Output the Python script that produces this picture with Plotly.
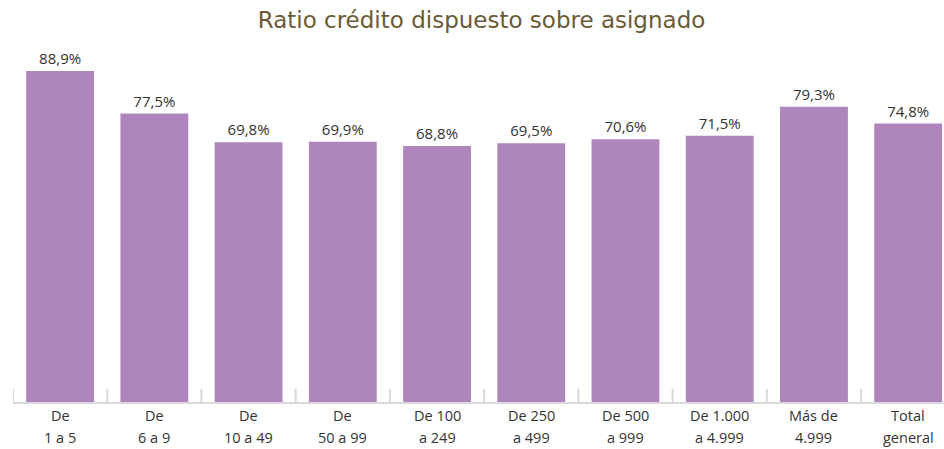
import plotly.graph_objects as go

label_line1 = ["De", "De", "De", "De", "De 100", "De 250", "De 500", "De 1.000", "Más de", "Total"]
label_line2 = ["1 a 5", "6 a 9", "10 a 49", "50 a 99", "a 249", "a 499", "a 999", "a 4.999", "4.999", "general"]
ratios = [88.9, 77.5, 69.8, 69.9, 68.8, 69.5, 70.6, 71.5, 79.3, 74.8]

W, H = 944, 449
FONT = "Open Sans, Liberation Sans, sans-serif"
idx = list(range(len(ratios)))
boundaries = [i - 0.5 for i in range(len(ratios) + 1)]

fig = go.Figure(go.Bar(
    x=idx, y=ratios,
    marker=dict(color="#AE86BD", line=dict(width=0)),
    texttemplate="%{y:.1f}%", textposition="outside", cliponaxis=False,
    textfont=dict(family=FONT, size=15, color="#333333"),
    hoverinfo="skip",
))
# category-boundary tick marks (lower half clipped by the plot area)
fig.add_trace(go.Scatter(
    x=boundaries, y=[0] * len(boundaries), mode="markers", cliponaxis=True,
    marker=dict(symbol="line-ns", size=19, line=dict(width=2, color="#D9D9D9")),
    hoverinfo="skip",
))
annotations = []
for i, l1, l2 in zip(idx, label_line1, label_line2):
    for txt, shift in ((l1, -13), (l2, -35)):
        annotations.append(dict(x=i, y=0, xref="x", yref="y", text=txt, showarrow=False,
                                xanchor="center", yanchor="middle", yshift=shift,
                                font=dict(family=FONT, size=14.5, color="#333333")))
fig.update_layout(
    width=W, height=H, separators=",.",
    paper_bgcolor="white", plot_bgcolor="white",
    margin=dict(l=13, r=0, t=45, b=47),
    bargap=0.28, showlegend=False, annotations=annotations,
    title=dict(text="Ratio crédito dispuesto sobre asignado", x=481.5 / W, xanchor="center",
               y=1 - 20 / H, yanchor="middle",
               font=dict(family="'DejaVu Sans', Verdana, sans-serif", size=23, color="#6B5A35")),
)
fig.update_xaxes(
    type="linear", range=[-0.5, 9.38], showline=True, linecolor="#D9D9D9", linewidth=2,
    ticks="", showticklabels=False,
    showgrid=False, zeroline=False, fixedrange=True, layer="above traces",
)
fig.update_yaxes(range=[0, 95.9], showticklabels=False, ticks="", showline=False,
                 showgrid=False, zeroline=False, fixedrange=True)
fig.write_html("out.html", config={"displayModeBar": False},
               post_script="document.body.style.margin='0';")
